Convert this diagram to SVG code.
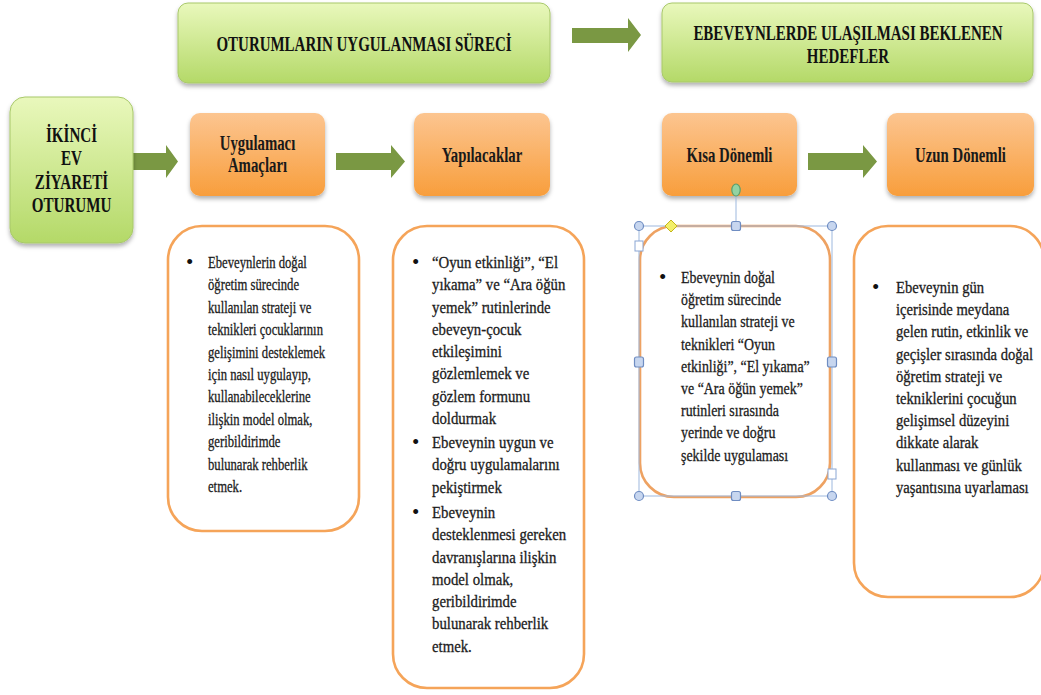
<svg xmlns="http://www.w3.org/2000/svg" width="1041" height="695" viewBox="0 0 1041 695">
<defs>
<linearGradient id="gGreen" x1="0" y1="0" x2="0" y2="1">
<stop offset="0" stop-color="#e9f8bc"/>
<stop offset="1" stop-color="#b4d968"/>
</linearGradient>
<linearGradient id="gOrange" x1="0" y1="0" x2="0" y2="1">
<stop offset="0" stop-color="#fcc590"/>
<stop offset="1" stop-color="#f89e3c"/>
</linearGradient>
<filter id="sh" x="-10%" y="-10%" width="120%" height="130%">
<feDropShadow dx="0" dy="3" stdDeviation="2.2" flood-color="#000" flood-opacity="0.3"/>
</filter>
</defs>
<style>
.green{fill:url(#gGreen);stroke:#a8c86a;stroke-width:1}
.orange{fill:url(#gOrange);stroke:none}
.tbox{fill:#fff;stroke:#f5a459;stroke-width:2.6}
.arrow{fill:#7a9843}
.hd{font-family:"Liberation Serif","Times New Roman",serif;font-weight:bold;font-size:21px;fill:#111;text-anchor:middle}
.lb{font-family:"Liberation Serif","Times New Roman",serif;font-weight:bold;font-size:20px;fill:#1a1a1a;text-anchor:middle}
.bd{font-family:"Liberation Serif","Times New Roman",serif;font-size:17px;fill:#1c1c1c;stroke:#1c1c1c;stroke-width:0.3}
.bul{font-family:"Liberation Serif","Times New Roman",serif;font-size:21px;fill:#111}
.sel{fill:none;stroke:#9db8de;stroke-width:1}
.hc{fill:#c7d6ef;stroke:#6f8dc2;stroke-width:1.2}
.hw{fill:#fff;stroke:#8aa6d4;stroke-width:1}
</style>
<rect width="1041" height="695" fill="#fff"/>

<g id="connectors">
<path class="arrow" d="M572 28 H628 V18 L641 35 L628 52 V43 H572 Z"/>
<path class="arrow" d="M132 153 H166 V145 L178 161.5 L166 178 V170 H132 Z"/>
<path class="arrow" d="M336 153 H391 V145 L405 161.5 L391 178 V170 H336 Z"/>
<path class="arrow" d="M808 153 H863 V145 L877 161.5 L863 178 V170 H808 Z"/>
</g>

<g id="header-surec">
<rect class="green" x="178" y="3" width="372" height="80" rx="10" filter="url(#sh)"/>
<text class="hd" transform="translate(364 50.5) scale(0.713 1)" x="0" y="0">OTURUMLARIN UYGULANMASI SÜRECİ</text>
</g>

<g id="header-hedefler">
<rect class="green" x="662" y="3" width="371" height="79" rx="10" filter="url(#sh)"/>
<text class="hd" transform="translate(848 40) scale(0.713 1)"><tspan x="0" y="0">EBEVEYNLERDE ULAŞILMASI BEKLENEN</tspan><tspan x="0" y="23">HEDEFLER</tspan></text>
</g>

<g id="node-ikinci">
<rect class="green" x="10" y="97" width="123" height="146" rx="15" filter="url(#sh)"/>
<text class="hd" transform="translate(71.5 142) scale(0.72 1)"><tspan x="0" y="0">İKİNCİ</tspan><tspan x="0" y="23.5">EV</tspan><tspan x="0" y="47">ZİYARETİ</tspan><tspan x="0" y="70.5">OTURUMU</tspan></text>
</g>

<g id="node-amaclari">
<rect class="orange" x="190" y="113" width="135" height="83" rx="10" filter="url(#sh)"/>
<text class="lb" transform="translate(257.5 150) scale(0.74 1)"><tspan x="0" y="0">Uygulamacı</tspan><tspan x="0" y="22">Amaçları</tspan></text>
</g>

<g id="node-yapilacaklar">
<rect class="orange" x="414" y="113" width="136" height="83" rx="10" filter="url(#sh)"/>
<text class="lb" transform="translate(482 161.5) scale(0.74 1)" x="0" y="0">Yapılacaklar</text>
</g>

<g id="node-kisa">
<rect class="orange" x="662" y="113" width="135" height="83" rx="10" filter="url(#sh)"/>
<text class="lb" transform="translate(729.5 161.5) scale(0.74 1)" x="0" y="0">Kısa Dönemli</text>
</g>

<g id="node-uzun">
<rect class="orange" x="887" y="113" width="147" height="83" rx="10" filter="url(#sh)"/>
<text class="lb" transform="translate(960.5 161.5) scale(0.74 1)" x="0" y="0">Uzun Dönemli</text>
</g>

<g id="box-amaclari">
<rect class="tbox" x="168" y="226" width="191" height="305" rx="34"/>
<text class="bul" x="186" y="269">•</text>
<text class="bd" transform="translate(208 268) scale(0.745 1)"><tspan x="0" y="0">Ebeveynlerin doğal</tspan><tspan x="0" y="22.4">öğretim sürecinde</tspan><tspan x="0" y="44.8">kullanılan strateji ve</tspan><tspan x="0" y="67.2">teknikleri çocuklarının</tspan><tspan x="0" y="89.6">gelişimini desteklemek</tspan><tspan x="0" y="112">için nasıl uygulayıp,</tspan><tspan x="0" y="134.4">kullanabileceklerine</tspan><tspan x="0" y="156.8">ilişkin model olmak,</tspan><tspan x="0" y="179.2">geribildirimde</tspan><tspan x="0" y="201.6">bulunarak rehberlik</tspan><tspan x="0" y="224">etmek.</tspan></text>
</g>

<g id="box-yapilacaklar">
<rect class="tbox" x="393" y="226" width="191" height="462" rx="34"/>
<text class="bul" x="412" y="269">•</text>
<text class="bul" x="412" y="449">•</text>
<text class="bul" x="412" y="519">•</text>
<text class="bd" transform="translate(432 268) scale(0.87 1)"><tspan x="0" y="0">“Oyun etkinliği”, “El</tspan><tspan x="0" y="22.3">yıkama” ve “Ara öğün</tspan><tspan x="0" y="44.6">yemek” rutinlerinde</tspan><tspan x="0" y="66.9">ebeveyn-çocuk</tspan><tspan x="0" y="89.2">etkileşimini</tspan><tspan x="0" y="111.5">gözlemlemek ve</tspan><tspan x="0" y="133.8">gözlem formunu</tspan><tspan x="0" y="156.1">doldurmak</tspan><tspan x="0" y="180">Ebeveynin uygun ve</tspan><tspan x="0" y="202.3">doğru uygulamalarını</tspan><tspan x="0" y="224.6">pekiştirmek</tspan><tspan x="0" y="250">Ebeveynin</tspan><tspan x="0" y="272.3">desteklenmesi gereken</tspan><tspan x="0" y="294.6">davranışlarına ilişkin</tspan><tspan x="0" y="316.9">model olmak,</tspan><tspan x="0" y="339.2">geribildirimde</tspan><tspan x="0" y="361.5">bulunarak rehberlik</tspan><tspan x="0" y="383.8">etmek.</tspan></text>
</g>

<g id="box-kisa">
<rect class="tbox" x="640" y="226" width="190" height="271" rx="34" style="stroke:#eea262"/>
<text class="bul" x="659" y="284">•</text>
<text class="bd" transform="translate(681 283) scale(0.82 1)"><tspan x="0" y="0">Ebeveynin doğal</tspan><tspan x="0" y="22.2">öğretim sürecinde</tspan><tspan x="0" y="44.4">kullanılan strateji ve</tspan><tspan x="0" y="66.6">teknikleri “Oyun</tspan><tspan x="0" y="88.8">etkinliği”, “El yıkama”</tspan><tspan x="0" y="111">ve “Ara öğün yemek”</tspan><tspan x="0" y="133.2">rutinleri sırasında</tspan><tspan x="0" y="155.4">yerinde ve doğru</tspan><tspan x="0" y="177.6">şekilde uygulaması</tspan></text>
</g>

<g id="selection-kisa">
<line class="sel" x1="736" y1="196" x2="736" y2="222"/>
<rect class="sel" x="639" y="226" width="193" height="270"/>
<ellipse cx="736" cy="190" rx="4.2" ry="6" fill="#93d3a2" stroke="#5c9e6c" stroke-width="1.2"/>
<circle class="hc" cx="639" cy="226" r="4.5"/>
<circle class="hc" cx="832" cy="226" r="4.5"/>
<circle class="hc" cx="639" cy="496" r="4.5"/>
<circle class="hc" cx="832" cy="496" r="4.5"/>
<rect class="hc" x="731.5" y="221.5" width="9" height="9" rx="2"/>
<rect class="hc" x="731.5" y="491.5" width="9" height="9" rx="2"/>
<rect class="hc" x="634.5" y="357" width="9" height="10" rx="2"/>
<rect class="hc" x="827.5" y="357" width="9" height="10" rx="2"/>
<rect class="hw" x="635" y="241" width="8" height="10"/>
<rect class="hw" x="828" y="469" width="8" height="10"/>
<path d="M671 220 L677 226 L671 232 L665 226 Z" fill="#f3ef6a" stroke="#c4b41a" stroke-width="1"/>
</g>

<g id="box-uzun">
<rect class="tbox" x="854" y="226" width="190" height="371" rx="34"/>
<text class="bul" x="872" y="294">•</text>
<text class="bd" transform="translate(896 293) scale(0.86 1)"><tspan x="0" y="0">Ebeveynin gün</tspan><tspan x="0" y="22.2">içerisinde meydana</tspan><tspan x="0" y="44.4">gelen rutin, etkinlik ve</tspan><tspan x="0" y="66.6">geçişler sırasında doğal</tspan><tspan x="0" y="88.8">öğretim strateji ve</tspan><tspan x="0" y="111">tekniklerini çocuğun</tspan><tspan x="0" y="133.2">gelişimsel düzeyini</tspan><tspan x="0" y="155.4">dikkate alarak</tspan><tspan x="0" y="177.6">kullanması ve günlük</tspan><tspan x="0" y="199.8">yaşantısına uyarlaması</tspan></text>
</g>
</svg>
